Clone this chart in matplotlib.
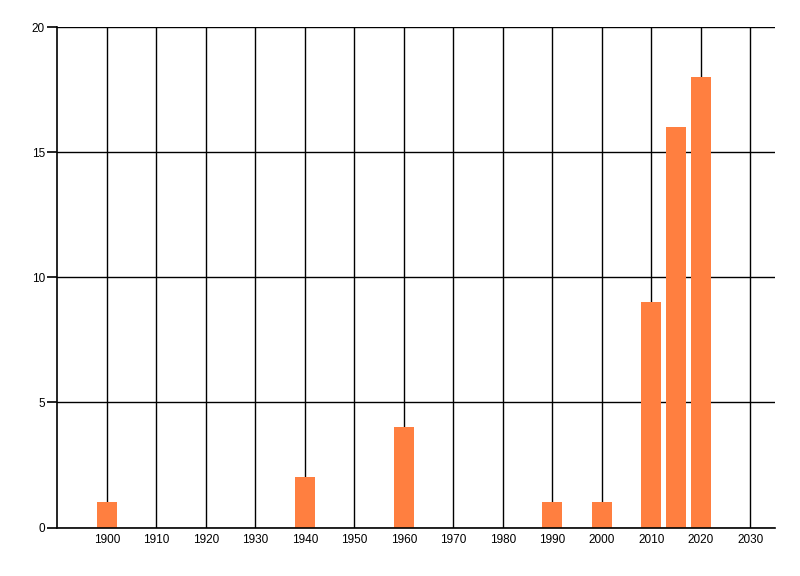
import matplotlib
matplotlib.use("Agg")
import matplotlib.pyplot as plt

years = [1900, 1940, 1960, 1990, 2000, 2010, 2015, 2020]
counts = [1, 2, 4, 1, 1, 9, 16, 18]
xticks = list(range(1900, 2031, 10))
yticks = [0, 5, 10, 15, 20]

plt.rcParams['font.family'] = ['Liberation Sans', 'DejaVu Sans']

fig = plt.figure(figsize=(8, 5.76), dpi=100)
ax = fig.add_axes([57.5/800, 1-527.5/576, (775-57.5)/800, (527.5-27)/576])
ax.bar(years, counts, width=4.04, color='#FF7F40', zorder=3)
ax.set_xlim(1890, 2035)
ax.set_ylim(0, 20)
ax.set_xticks(xticks)
ax.set_xticklabels([str(t) for t in xticks])
ax.set_yticks(yticks)
ax.grid(True, color='black', linewidth=1.0, zorder=0)
ax.set_axisbelow(True)
for s in ['top', 'right']:
    ax.spines[s].set_visible(False)
for s in ['left', 'bottom']:
    ax.spines[s].set_linewidth(1.2)
    ax.spines[s].set_zorder(4)
ax.tick_params(axis='x', length=0, pad=5, labelsize=8.5)
ax.tick_params(axis='y', length=7, width=1.2, pad=2, labelsize=8.5)
fig.savefig('out.png', dpi=100)
